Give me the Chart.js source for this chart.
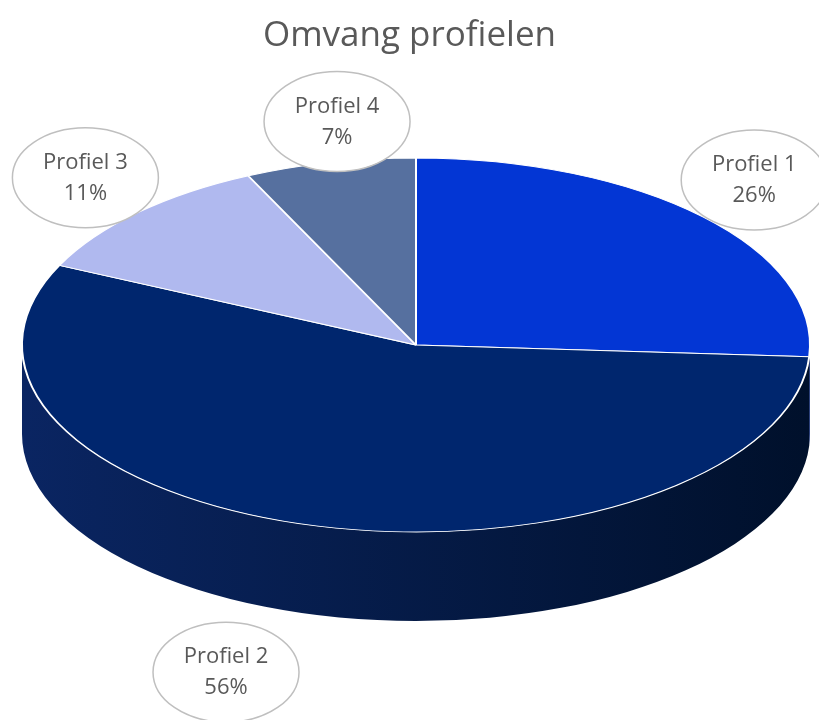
<!DOCTYPE html>
<html>
<head>
<meta charset="utf-8">
<script src="https://cdn.jsdelivr.net/npm/chart.js@4"></script>
<style>
html, body { margin: 0; padding: 0; background: #fff; overflow: hidden; }
#wrap { width: 819px; height: 720px; }
</style>
</head>
<body>
<div id="wrap"><canvas id="pieChart"></canvas></div>
<script>
const categories = ['Profiel 1', 'Profiel 2', 'Profiel 3', 'Profiel 4'];
const shares = [26, 56, 11, 7];
const sliceColors = ['#0336d4', '#00266e', '#b0b9ef', '#56709f'];
const sideColors = [['#0229a6', '#011c70'], ['#0a2562', '#00102b'], ['#8a93c8', '#6a72a0'], ['#3f557e', '#2c3d5e']];

// where the tilted pie sits on the page
const GEO = { cx: 416, cy: 345, rx: 394, ry: 187, depth: 89 };
// label bubble offsets from the slice's outer edge
const labelNudge = [[51, -37], [-92, 146], [-52, -35], [7, -41]];

const tiltPlugin = {
    id: 'tilt',
    beforeDatasetsDraw(chart) {
        const ctx = chart.ctx;
        const arcs = chart.getDatasetMeta(0).data;
        // side wall for the front half only
        arcs.forEach((arc, i) => {
            const s = Math.max(arc.startAngle, 0);
            const e = Math.min(arc.endAngle, Math.PI);
            if (e <= s) return;
            const grad = ctx.createLinearGradient(GEO.cx - GEO.rx, 0, GEO.cx + GEO.rx, 0);
            grad.addColorStop(0, sideColors[i][0]);
            grad.addColorStop(1, sideColors[i][1]);
            ctx.beginPath();
            ctx.ellipse(GEO.cx, GEO.cy, GEO.rx, GEO.ry, 0, s, e);
            ctx.ellipse(GEO.cx, GEO.cy + GEO.depth, GEO.rx, GEO.ry, 0, e, s, true);
            ctx.closePath();
            ctx.fillStyle = grad;
            ctx.fill();
        });
        const r = arcs[0].outerRadius;
        ctx.save();
        ctx.translate(GEO.cx, GEO.cy);
        ctx.scale(GEO.rx / r, GEO.ry / r);
        ctx.translate(-arcs[0].x, -arcs[0].y);
    },
    afterDatasetsDraw(chart) {
        chart.ctx.restore();
    }
};

const bubblePlugin = {
    id: 'bubbles',
    afterDraw(chart) {
        const ctx = chart.ctx;
        const arcs = chart.getDatasetMeta(0).data;
        const total = shares.reduce((a, b) => a + b, 0);
        arcs.forEach((arc, i) => {
            const mid = (arc.startAngle + arc.endAngle) / 2;
            const x = GEO.cx + GEO.rx * Math.cos(mid) + labelNudge[i][0];
            const y = GEO.cy + GEO.ry * Math.sin(mid) + labelNudge[i][1];
            ctx.save();
            ctx.beginPath();
            ctx.ellipse(x, y, 73, 50, 0, 0, Math.PI * 2);
            ctx.fillStyle = '#ffffff';
            ctx.fill();
            ctx.lineWidth = 1.5;
            ctx.strokeStyle = '#bfbfbf';
            ctx.stroke();
            ctx.fillStyle = '#595959';
            ctx.font = '22px "Open Sans"';
            ctx.textAlign = 'center';
            ctx.textBaseline = 'middle';
            ctx.fillText(categories[i], x, y - 15);
            ctx.fillText(Math.round(shares[i] / total * 100) + '%', x, y + 16);
            ctx.restore();
        });
    }
};

new Chart(document.getElementById('pieChart'), {
    type: 'pie',
    data: {
        labels: categories,
        datasets: [{
            data: shares,
            backgroundColor: sliceColors,
            borderColor: '#ffffff',
            borderWidth: 2
        }]
    },
    options: {
        responsive: true,
        maintainAspectRatio: false,
        animation: false,
        radius: 394,
        plugins: {
            legend: { display: false },
            tooltip: { enabled: false },
            title: {
                display: true,
                text: 'Omvang profielen',
                color: '#595959',
                font: { family: 'Open Sans', size: 35, weight: 'normal' },
                padding: { top: 15, bottom: 10 }
            }
        }
    },
    plugins: [tiltPlugin, bubblePlugin]
});
</script>
</body>
</html>
